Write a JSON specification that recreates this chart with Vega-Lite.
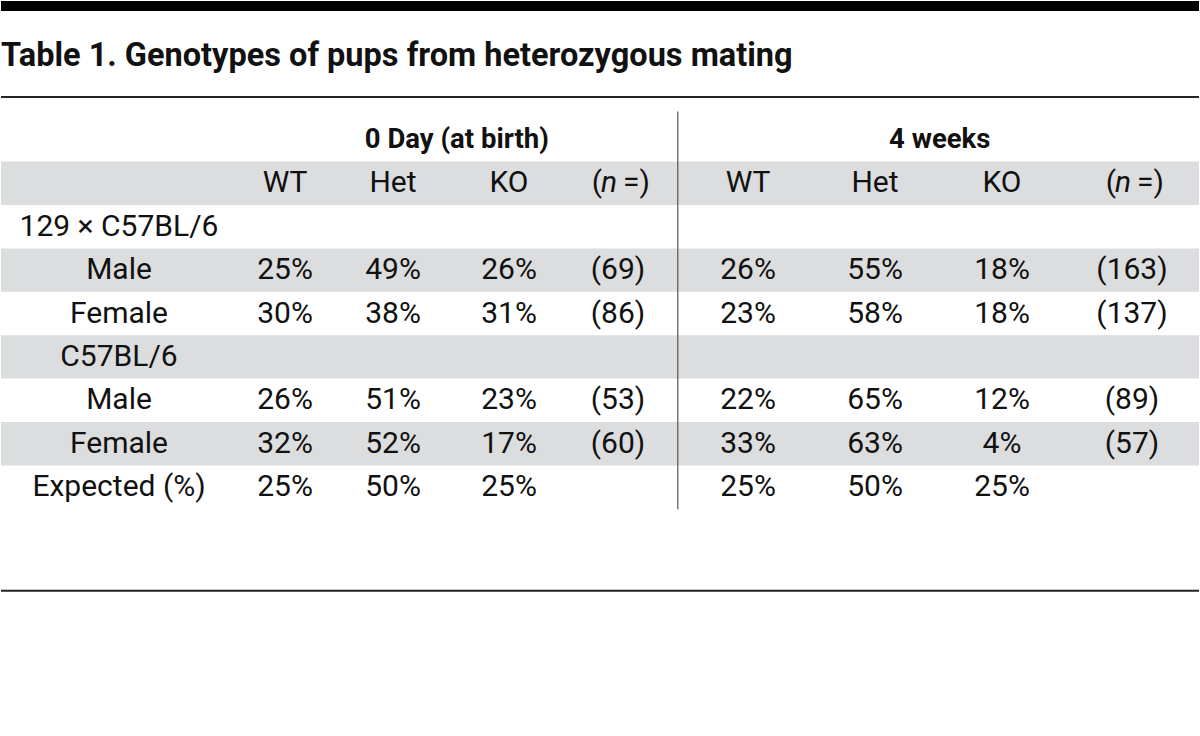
{
  "$schema": "https://vega.github.io/schema/vega-lite/v6.json",
  "width": 1200,
  "height": 736,
  "autosize": {"type": "fit", "contains": "padding"},
  "padding": 0,
  "background": "white",
  "config": {"view": {"stroke": null}, "text": {"font": "Roboto", "fontSize": 30, "color": "#111111", "baseline": "middle"}},
  "datasets": {
    "bands": [
      {"top": 0.5, "bottom": 1.5},
      {"top": 2.5, "bottom": 3.5},
      {"top": 4.5, "bottom": 5.5},
      {"top": 6.5, "bottom": 7.5}
    ],
    "topbar": [{"top": -3.2, "bottom": -2.97}],
    "hlines": [
      {"row": -0.987, "w": "thin"},
      {"row": 10.387, "w": "thin"}
    ],
    "vline": [{"col": 4.46, "top": -0.655, "bottom": 8.51}],
    "title": [{"row": -1.93, "col": -1, "text": "Table 1. Genotypes of pups from heterozygous mating"}],
    "groups": [
      {"row": 0, "col": 2.55, "text": "0 Day (at birth)"},
      {"row": 0, "col": 6.51, "text": "4 weeks"}
    ],
    "nhead": [{"row": 1, "col": 4}, {"row": 1, "col": 8}],
    "cells": [
      {"row": 1, "col": 1, "text": "WT"},
      {"row": 1, "col": 2, "text": "Het"},
      {"row": 1, "col": 3, "text": "KO"},
      {"row": 1, "col": 5, "text": "WT"},
      {"row": 1, "col": 6, "text": "Het"},
      {"row": 1, "col": 7, "text": "KO"},
      {"row": 2, "col": 0, "text": "129 × C57BL/6"},
      {"row": 3, "col": 0, "text": "Male"},
      {"row": 3, "col": 1, "text": "25%"},
      {"row": 3, "col": 2, "text": "49%"},
      {"row": 3, "col": 3, "text": "26%"},
      {"row": 3, "col": 4, "text": "(69)"},
      {"row": 3, "col": 5, "text": "26%"},
      {"row": 3, "col": 6, "text": "55%"},
      {"row": 3, "col": 7, "text": "18%"},
      {"row": 3, "col": 8, "text": "(163)"},
      {"row": 4, "col": 0, "text": "Female"},
      {"row": 4, "col": 1, "text": "30%"},
      {"row": 4, "col": 2, "text": "38%"},
      {"row": 4, "col": 3, "text": "31%"},
      {"row": 4, "col": 4, "text": "(86)"},
      {"row": 4, "col": 5, "text": "23%"},
      {"row": 4, "col": 6, "text": "58%"},
      {"row": 4, "col": 7, "text": "18%"},
      {"row": 4, "col": 8, "text": "(137)"},
      {"row": 5, "col": 0, "text": "C57BL/6"},
      {"row": 6, "col": 0, "text": "Male"},
      {"row": 6, "col": 1, "text": "26%"},
      {"row": 6, "col": 2, "text": "51%"},
      {"row": 6, "col": 3, "text": "23%"},
      {"row": 6, "col": 4, "text": "(53)"},
      {"row": 6, "col": 5, "text": "22%"},
      {"row": 6, "col": 6, "text": "65%"},
      {"row": 6, "col": 7, "text": "12%"},
      {"row": 6, "col": 8, "text": "(89)"},
      {"row": 7, "col": 0, "text": "Female"},
      {"row": 7, "col": 1, "text": "32%"},
      {"row": 7, "col": 2, "text": "52%"},
      {"row": 7, "col": 3, "text": "17%"},
      {"row": 7, "col": 4, "text": "(60)"},
      {"row": 7, "col": 5, "text": "33%"},
      {"row": 7, "col": 6, "text": "63%"},
      {"row": 7, "col": 7, "text": "4%"},
      {"row": 7, "col": 8, "text": "(57)"},
      {"row": 8, "col": 0, "text": "Expected (%)"},
      {"row": 8, "col": 1, "text": "25%"},
      {"row": 8, "col": 2, "text": "50%"},
      {"row": 8, "col": 3, "text": "25%"},
      {"row": 8, "col": 5, "text": "25%"},
      {"row": 8, "col": 6, "text": "50%"},
      {"row": 8, "col": 7, "text": "25%"}
    ]
  },
  "resolve": {"scale": {"x": "shared", "y": "shared"}},
  "layer": [
    {
      "data": {"name": "bands"},
      "mark": {"type": "rect", "color": "#dcdddf"},
      "encoding": {
        "y": {"field": "top", "type": "quantitative", "axis": null, "scale": {"domain": [-3.13, 13.733], "reverse": true, "nice": false, "zero": false}},
        "y2": {"field": "bottom"}
      }
    },
    {
      "data": {"name": "topbar"},
      "mark": {"type": "rect", "color": "#000000"},
      "encoding": {
        "y": {"field": "top", "type": "quantitative", "axis": null},
        "y2": {"field": "bottom"}
      }
    },
    {
      "data": {"name": "hlines"},
      "mark": {"type": "rule", "color": "#222222", "strokeWidth": 2},
      "encoding": {
        "y": {"field": "row", "type": "quantitative", "axis": null}
      }
    },
    {
      "data": {"name": "vline"},
      "mark": {"type": "rule", "color": "#555555", "strokeWidth": 1.2},
      "encoding": {
        "x": {"field": "col", "type": "quantitative", "axis": null, "scale": {"domain": [-1, 0, 1, 2, 3, 4, 5, 6, 7, 8, 9], "range": [0, 118, 284, 392, 508, 617, 747, 874, 1001, 1131, 1200], "nice": false, "zero": false}},
        "y": {"field": "top", "type": "quantitative", "axis": null},
        "y2": {"field": "bottom"}
      }
    },
    {
      "data": {"name": "title"},
      "mark": {"type": "text", "fontWeight": "bold", "fontSize": 32.5, "align": "left"},
      "encoding": {
        "x": {"field": "col", "type": "quantitative", "axis": null},
        "y": {"field": "row", "type": "quantitative", "axis": null},
        "text": {"field": "text"}
      }
    },
    {
      "data": {"name": "groups"},
      "mark": {"type": "text", "fontWeight": "bold", "fontSize": 27.5, "align": "center"},
      "encoding": {
        "x": {"field": "col", "type": "quantitative", "axis": null},
        "y": {"field": "row", "type": "quantitative", "axis": null},
        "text": {"field": "text"}
      }
    },
    {
      "data": {"name": "cells"},
      "mark": {"type": "text", "align": "center"},
      "encoding": {
        "x": {"field": "col", "type": "quantitative", "axis": null},
        "y": {"field": "row", "type": "quantitative", "axis": null},
        "text": {"field": "text"}
      }
    },
    {
      "data": {"name": "nhead"},
      "mark": {"type": "text", "align": "right", "text": "(", "dx": -16},
      "encoding": {
        "x": {"field": "col", "type": "quantitative", "axis": null},
        "y": {"field": "row", "type": "quantitative", "axis": null}
      }
    },
    {
      "data": {"name": "nhead"},
      "mark": {"type": "text", "align": "center", "text": "n", "fontStyle": "italic", "dx": -9},
      "encoding": {
        "x": {"field": "col", "type": "quantitative", "axis": null},
        "y": {"field": "row", "type": "quantitative", "axis": null}
      }
    },
    {
      "data": {"name": "nhead"},
      "mark": {"type": "text", "align": "left", "text": "=)", "dx": 5},
      "encoding": {
        "x": {"field": "col", "type": "quantitative", "axis": null},
        "y": {"field": "row", "type": "quantitative", "axis": null}
      }
    }
  ]
}
